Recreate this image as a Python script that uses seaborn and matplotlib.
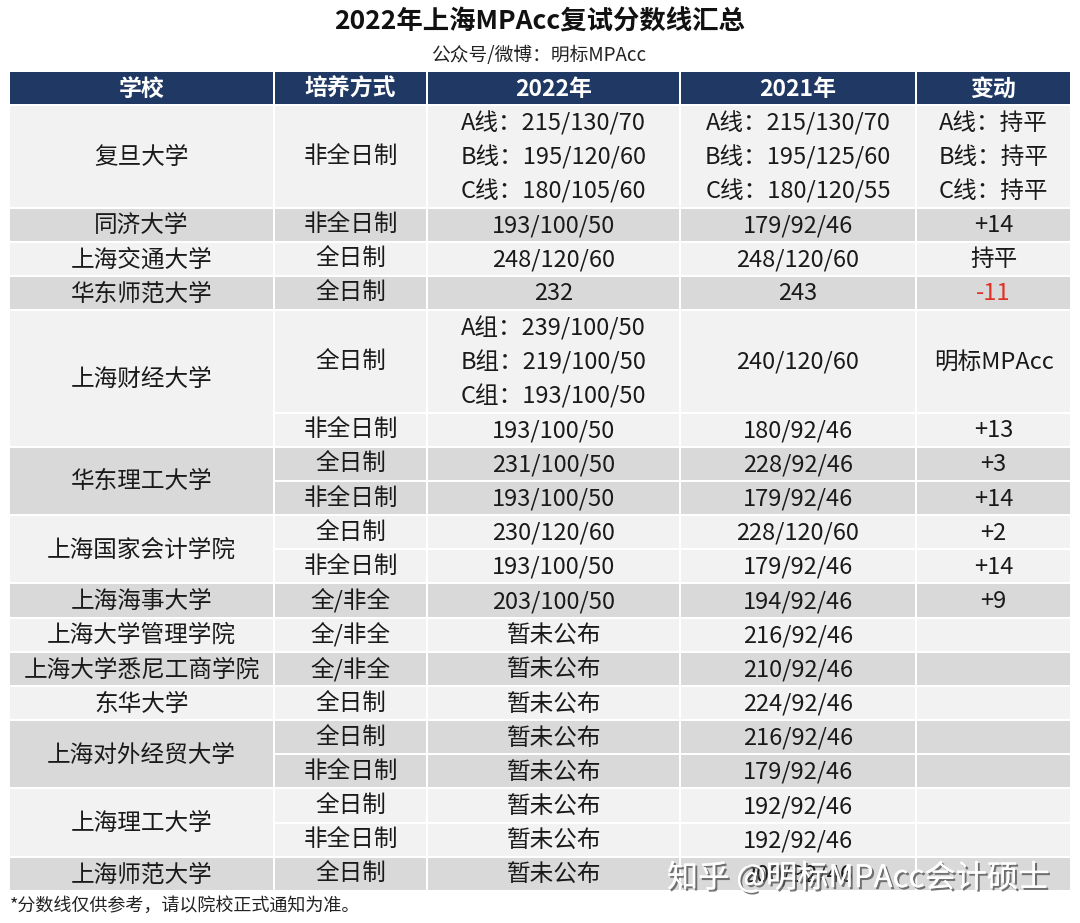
import matplotlib
matplotlib.use("Agg")
import matplotlib.pyplot as plt
import matplotlib.patheffects as pe
from matplotlib.patches import Rectangle
import seaborn as sns

# ---- table content ----
title = "2022年上海MPAcc复试分数线汇总"
subtitle = "公众号/微博：明标MPAcc"
footnote = "*分数线仅供参考，请以院校正式通知为准。"
watermark = "知乎 @明标MPAcc会计硕士"
headers = ["学校", "培养方式", "2022年", "2021年", "变动"]

schools = ["复旦大学", "同济大学", "上海交通大学", "华东师范大学", "上海财经大学",
           "华东理工大学", "上海国家会计学院", "上海海事大学", "上海大学管理学院",
           "上海大学悉尼工商学院", "东华大学", "上海对外经贸大学", "上海理工大学",
           "上海师范大学"]
modes = [["非全日制"], ["非全日制"], ["全日制"], ["全日制"], ["全日制", "非全日制"],
         ["全日制", "非全日制"], ["全日制", "非全日制"], ["全/非全"], ["全/非全"],
         ["全/非全"], ["全日制"], ["全日制", "非全日制"], ["全日制", "非全日制"],
         ["全日制"]]
score_2022 = [["A线：215/130/70\nB线：195/120/60\nC线：180/105/60"], ["193/100/50"],
              ["248/120/60"], ["232"],
              ["A组：239/100/50\nB组：219/100/50\nC组：193/100/50", "193/100/50"],
              ["231/100/50", "193/100/50"], ["230/120/60", "193/100/50"],
              ["203/100/50"], ["暂未公布"], ["暂未公布"], ["暂未公布"],
              ["暂未公布", "暂未公布"], ["暂未公布", "暂未公布"], ["暂未公布"]]
score_2021 = [["A线：215/130/70\nB线：195/125/60\nC线：180/120/55"], ["179/92/46"],
              ["248/120/60"], ["243"], ["240/120/60", "180/92/46"],
              ["228/92/46", "179/92/46"], ["228/120/60", "179/92/46"],
              ["194/92/46"], ["216/92/46"], ["210/92/46"], ["224/92/46"],
              ["216/92/46", "179/92/46"], ["192/92/46", "192/92/46"], ["200/92/46"]]
change = [["A线：持平\nB线：持平\nC线：持平"], ["+14"], ["持平"], ["-11"],
          ["明标MPAcc", "+13"], ["+3", "+14"], ["+2", "+14"], ["+9"], [""], [""],
          [""], ["", ""], ["", ""], [""]]

# ---- style ----
sns.set_theme(style="white")
plt.rcParams["font.family"] = ["Noto Sans CJK SC", "DejaVu Sans"]

navy = "#1f3864"
fills = ["#f2f2f2", "#d9d9d9"]
ink = "#1a1a1a"
red = "#e03127"
body_size = 17

col_edges = [10, 275, 428, 681, 917, 1072]
gap = 2
head_top, head_bot = 72, 104
body_top = 106
unit = (892 - body_top) / 23

fig = plt.figure(figsize=(10.8, 9.23), dpi=100)
ax = fig.add_axes([0, 0, 1, 1])
ax.set_xlim(0, 1080)
ax.set_ylim(923, 0)
ax.axis("off")


def cell(ax, c, y0, y1, color):
    x0, x1 = col_edges[c], col_edges[c + 1] - gap
    ax.add_patch(Rectangle((x0, y0), x1 - x0, y1 - y0, facecolor=color,
                           edgecolor="none"))
    return (x0 + x1) / 2


def put(ax, xc, y0, n_units, txt, color=ink):
    lines = txt.split("\n")
    if len(lines) == n_units:
        for i, ln in enumerate(lines):
            ax.text(xc, y0 + (i + 0.5) * unit, ln, ha="center", va="center",
                    fontsize=body_size, color=color)
    else:
        ax.text(xc, y0 + n_units * unit / 2, txt, ha="center", va="center",
                fontsize=body_size, color=color, linespacing=1.45)


# header
for c, h in enumerate(headers):
    xc = cell(ax, c, head_top, head_bot, navy)
    ax.text(xc, (head_top + head_bot) / 2 + 1, h, ha="center", va="center",
            fontsize=16.5, color="white", fontweight="bold")

# body
y = body_top
for g, school in enumerate(schools):
    color = fills[g % 2]
    sub_units = [max(len(a.split("\n")), len(b.split("\n")), len(d.split("\n")))
                 for a, b, d in zip(score_2022[g], score_2021[g], change[g])]
    total = sum(sub_units) * unit
    xc = cell(ax, 0, y, y + total - gap, color)
    ax.text(xc, y + total / 2, school, ha="center", va="center",
            fontsize=body_size, color=ink)
    sy = y
    for k, nu in enumerate(sub_units):
        h = nu * unit
        vals = [modes[g][k], score_2022[g][k], score_2021[g][k], change[g][k]]
        for c, v in enumerate(vals, start=1):
            cx = cell(ax, c, sy, sy + h - gap, color)
            put(ax, cx, sy, nu, v, red if v.startswith("-") else ink)
        sy += h
    y += total

# titles and notes
ax.text(540, 22, title, ha="center", va="center", fontsize=19,
        fontweight="bold", color="#111111")
ax.text(539, 55, subtitle, ha="center", va="center", fontsize=13.5, color="#222222")
ax.text(10, 906, footnote, ha="left", va="center", fontsize=13, color="#222222")
ax.text(858, 878, watermark, ha="center", va="center", fontsize=22.5,
        color="white", alpha=0.95,
        path_effects=[pe.withSimplePatchShadow(offset=(1.5, -1.5),
                                               shadow_rgbFace="#555555",
                                               alpha=0.8), pe.Normal()])

fig.savefig("out.png", dpi=100, facecolor="white")
